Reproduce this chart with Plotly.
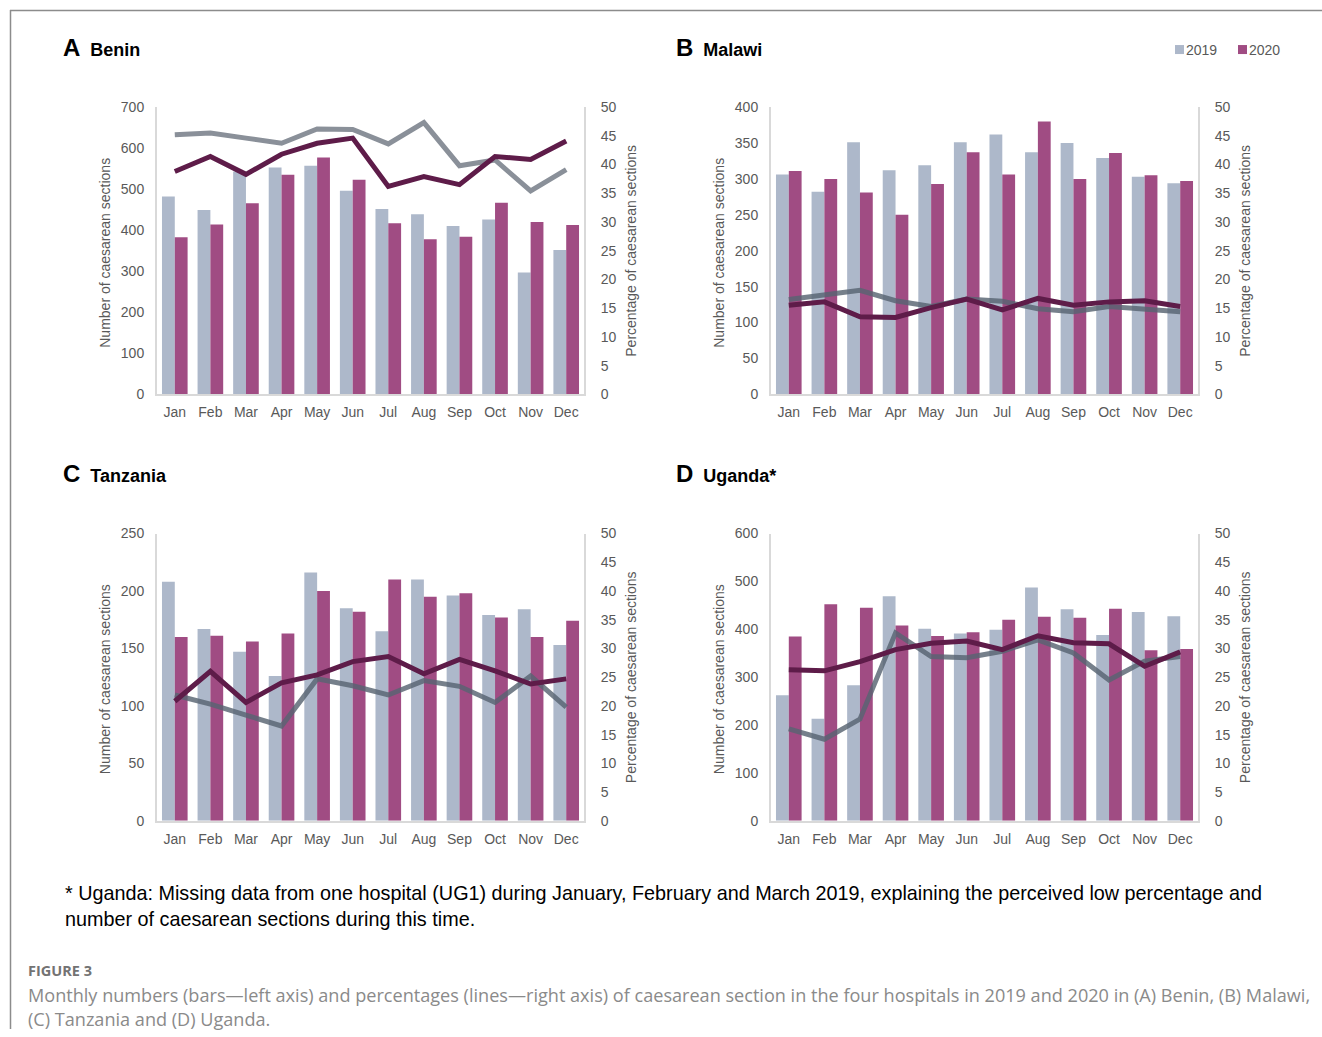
import plotly.graph_objects as go

W, H = 1322, 1037

months = ["Jan", "Feb", "Mar", "Apr", "May", "Jun", "Jul", "Aug", "Sep", "Oct", "Nov", "Dec"]

# Benin
benin_n2019 = [482, 449, 543, 553, 557, 496, 452, 439, 410, 426, 297, 352]
benin_n2020 = [383, 414, 466, 535, 577, 523, 417, 378, 384, 467, 420, 413]
benin_p2019 = [45.2, 45.5, 44.6, 43.7, 46.2, 46.1, 43.6, 47.3, 39.8, 40.8, 35.4, 39.1]
benin_p2020 = [38.8, 41.4, 38.3, 41.8, 43.7, 44.6, 36.2, 37.9, 36.5, 41.4, 40.9, 44.1]

# Malawi
malawi_n2019 = [306, 282, 351, 312, 319, 351, 362, 337, 350, 329, 303, 294]
malawi_n2020 = [311, 300, 281, 250, 293, 337, 306, 380, 300, 336, 305, 297]
malawi_p2019 = [16.5, 17.3, 18.1, 16.3, 15.3, 16.6, 16.2, 14.9, 14.4, 15.3, 14.9, 14.4]
malawi_p2020 = [15.5, 16.1, 13.5, 13.4, 15.1, 16.6, 14.7, 16.7, 15.5, 16.1, 16.3, 15.3]

# Tanzania
tanzania_n2019 = [208, 167, 147, 126, 216, 185, 165, 210, 196, 179, 184, 153]
tanzania_n2020 = [160, 161, 156, 163, 200, 182, 210, 195, 198, 177, 160, 174]
tanzania_p2019 = [21.9, 20.3, 18.4, 16.5, 24.7, 23.5, 21.9, 24.4, 23.4, 20.6, 25.2, 19.8]
tanzania_p2020 = [20.8, 26.0, 20.6, 24.0, 25.4, 27.7, 28.6, 25.6, 28.1, 26.1, 23.8, 24.7]

# Uganda
uganda_n2019 = [262, 213, 283, 469, 401, 391, 399, 487, 442, 388, 436, 427]
uganda_n2020 = [385, 452, 445, 408, 386, 394, 420, 426, 424, 443, 356, 359]
uganda_p2019 = [16.0, 14.2, 17.7, 32.7, 28.6, 28.4, 29.5, 31.5, 29.2, 24.5, 27.8, 28.6]
uganda_p2020 = [26.3, 26.1, 27.7, 29.8, 30.9, 31.3, 29.8, 32.2, 31.0, 30.8, 26.9, 29.4]

left_ranges = [700, 400, 250, 600]
left_dticks = [100, 50, 50, 100]
pct_ticks = list(range(0, 55, 5))

BAR19 = "#ADB8CA"
BAR20 = "#A04C83"
LINE19_BENIN = "#8A9099"
LINE19 = "rgba(88,100,114,0.82)"
LINE20 = "#5E1C49"
AXIS_GREY = "#D9D9D9"
TICK_GREY = "#595959"
FONT = "Liberation Sans, Arial, sans-serif"
CAPTION_FONT = "Open Sans, sans-serif"

# the page is shown with an 8 px band above and below the figure
PAGE_TOP = 8
PAGE_SCALE = 1020 / 1037


def px_x(v):
    return v / W


def px_y(v):
    placed = (v - PAGE_TOP) / PAGE_SCALE
    return 1 - placed / H


panels = [
    ("A", "Benin", benin_n2019, benin_n2020, benin_p2019, benin_p2020, LINE19_BENIN),
    ("B", "Malawi", malawi_n2019, malawi_n2020, malawi_p2019, malawi_p2020, LINE19),
    ("C", "Tanzania", tanzania_n2019, tanzania_n2020, tanzania_p2019, tanzania_p2020, LINE19),
    ("D", "Uganda*", uganda_n2019, uganda_n2020, uganda_p2019, uganda_p2020, LINE19),
]

# plot-area boxes in pixels: (left, right, top, bottom)
boxes = [(157, 584, 107, 394), (771, 1198, 107, 394),
         (157, 584, 533, 820), (771, 1198, 533, 820)]
title_rows = [47, 47, 473, 473]

fig = go.Figure()
layout = dict(
    width=W, height=H, margin=dict(l=0, r=0, t=0, b=0),
    paper_bgcolor="white", plot_bgcolor="white",
    barmode="group", bargap=0.28, bargroupgap=0,
    showlegend=False, font=dict(family=FONT, color=TICK_GREY, size=14),
)
annotations = []
shapes = []

for i, (letter, name, n19, n20, p19, p20, l19col) in enumerate(panels):
    k = i + 1
    xa = "x" if k == 1 else f"x{k}"
    ya = "y" if k == 1 else f"y{k}"
    yr = f"y{k + 4}"
    l, r, t, b = boxes[i]

    fig.add_trace(go.Bar(x=months, y=n19, name="2019", marker=dict(color=BAR19, line_width=0),
                         xaxis=xa, yaxis=ya))
    fig.add_trace(go.Bar(x=months, y=n20, name="2020", marker=dict(color=BAR20, line_width=0),
                         xaxis=xa, yaxis=ya))
    fig.add_trace(go.Scatter(x=months, y=p19, mode="lines", line=dict(color=l19col, width=5),
                             xaxis=xa, yaxis=yr))
    fig.add_trace(go.Scatter(x=months, y=p20, mode="lines", line=dict(color=LINE20, width=5),
                             xaxis=xa, yaxis=yr))

    layout["xaxis" if k == 1 else f"xaxis{k}"] = dict(
        domain=[px_x(l), px_x(r)], anchor=ya, type="category",
        showline=True, linecolor=AXIS_GREY, linewidth=2, showgrid=False, zeroline=False,
        ticks="outside", ticklen=4, tickcolor="rgba(0,0,0,0)",
        tickfont=dict(family=FONT, size=14, color=TICK_GREY), fixedrange=True,
    )
    layout["yaxis" if k == 1 else f"yaxis{k}"] = dict(
        domain=[px_y(b), px_y(t)], anchor=xa, range=[0, left_ranges[i]],
        dtick=left_dticks[i], tick0=0,
        showline=True, linecolor=AXIS_GREY, linewidth=2, showgrid=False, zeroline=False,
        ticks="outside", ticklen=8, tickcolor="rgba(0,0,0,0)",
        tickfont=dict(family=FONT, size=14, color=TICK_GREY),
    )
    layout[f"yaxis{k + 4}"] = dict(
        overlaying=ya, anchor=xa, side="right", range=[0, 50],
        tickvals=pct_ticks,
        showline=True, linecolor=AXIS_GREY, linewidth=2, showgrid=False, zeroline=False,
        ticks="outside", ticklen=12, tickcolor="rgba(0,0,0,0)",
        tickfont=dict(family=FONT, size=14, color=TICK_GREY),
    )

    cy = (t + b) / 2
    annotations.append(dict(
        x=px_x(l - 52), y=px_y(cy + 2), xref="paper", yref="paper",
        text="Number of caesarean sections", textangle=-90, showarrow=False,
        font=dict(family=FONT, size=14, color=TICK_GREY), xanchor="center", yanchor="middle"))
    annotations.append(dict(
        x=px_x(r + 47), y=px_y(cy), xref="paper", yref="paper",
        text="Percentage of caesarean sections", textangle=-90, showarrow=False,
        font=dict(family=FONT, size=14, color=TICK_GREY), xanchor="center", yanchor="middle"))

    tx = 61 if i % 2 == 0 else 674
    annotations.append(dict(
        x=px_x(tx), y=px_y(title_rows[i]), xref="paper", yref="paper",
        text=f"<b><span style='font-size:24px'>{letter}</span>&nbsp; {name}</b>",
        showarrow=False, xanchor="left", yanchor="middle",
        font=dict(family=FONT, size=18, color="#000000")))

# legend keys
for sx, lab, col in [(1175, "2019", BAR19), (1238, "2020", BAR20)]:
    shapes.append(dict(type="rect", xref="paper", yref="paper",
                       x0=px_x(sx), x1=px_x(sx + 9), y0=px_y(54), y1=px_y(45),
                       fillcolor=col, line_width=0))
    annotations.append(dict(x=px_x(sx + 9), y=px_y(50), xref="paper", yref="paper",
                            text=lab, showarrow=False, xanchor="left", yanchor="middle",
                            font=dict(family=FONT, size=14, color=TICK_GREY)))

# footnote
annotations.append(dict(
    x=px_x(63), y=px_y(905), xref="paper", yref="paper", showarrow=False,
    xanchor="left", yanchor="middle", align="left",
    text="* Uganda: Missing data from one hospital (UG1) during January, February and March 2019, "
         "explaining the perceived low percentage and<br>number of caesarean sections during this time.",
    font=dict(family=FONT, size=19.8, color="#000000")))

# caption
annotations.append(dict(
    x=px_x(26), y=px_y(970), xref="paper", yref="paper", showarrow=False,
    xanchor="left", yanchor="middle", text="<b>FIGURE 3</b>",
    font=dict(family=CAPTION_FONT, size=14.5, color="#737373")))
annotations.append(dict(
    x=px_x(26), y=px_y(1006), xref="paper", yref="paper", showarrow=False,
    xanchor="left", yanchor="middle", align="left",
    text="Monthly numbers (bars\u2014left axis) and percentages (lines\u2014right axis) of caesarean section "
         "in the four hospitals in 2019 and 2020 in (A) Benin, (B) Malawi,<br>(C) Tanzania and (D) Uganda.",
    font=dict(family=CAPTION_FONT, size=18.1, color="#8A8A8A")))

# frame lines
shapes.append(dict(type="line", xref="paper", yref="paper", x0=px_x(10), x1=1,
                   y0=px_y(10.5), y1=px_y(10.5), line=dict(color="#8C8C8C", width=1.5)))
shapes.append(dict(type="line", xref="paper", yref="paper", x0=px_x(10.5), x1=px_x(10.5),
                   y0=px_y(10), y1=0, line=dict(color="#8C8C8C", width=1.5)))

layout["annotations"] = annotations
layout["shapes"] = shapes
fig.update_layout(**layout)

fig.write_html("out.html")
